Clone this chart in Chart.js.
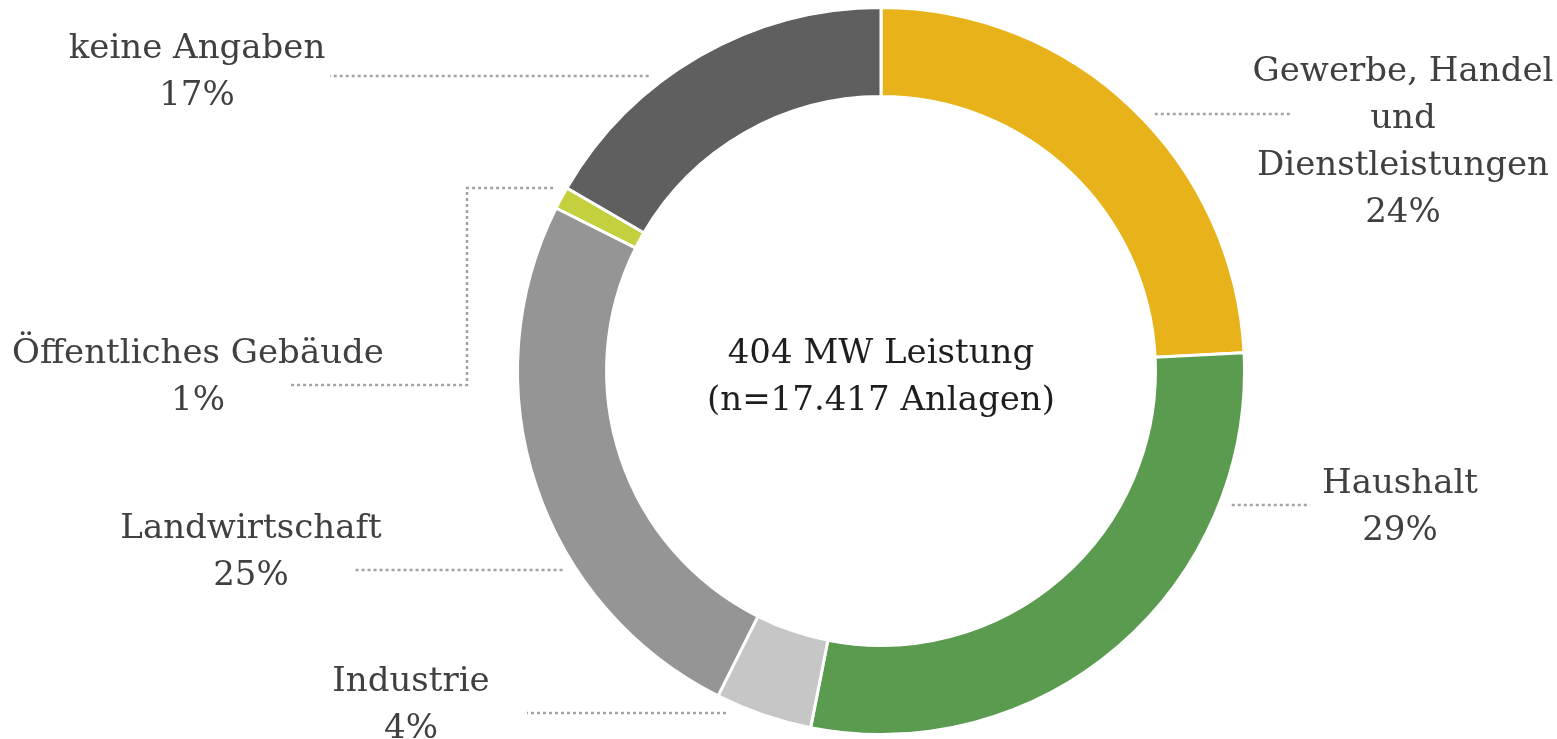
<!DOCTYPE html>
<html lang="de">
<head>
<meta charset="utf-8">
<title>Leistung nach Sektor</title>
<script src="https://cdn.jsdelivr.net/npm/chart.js@4"></script>
<style>
  html, body { margin: 0; padding: 0; background: #fff; }
  #wrap { width: 1557px; height: 739px; }
</style>
</head>
<body>
<div id="wrap"><canvas id="grafik" width="1557" height="739"></canvas></div>
<script>
// Daten
const sektoren = ["Gewerbe, Handel und Dienstleistungen", "Haushalt", "Industrie", "Landwirtschaft", "Öffentliches Gebäude", "keine Angaben"];
const anteile = [24.2, 28.9, 4.3, 25.0, 1.0, 16.6];
const farben = ["#E8B31A", "#5A9B50", "#C6C6C6", "#959595", "#C5D03F", "#5F5F5F"];
const mitteText = ["404 MW Leistung", "(n=17.417 Anlagen)"];

// Beschriftungen: Textzeilen, Textmitte, Führungslinie (y, Ende am Text, optionaler Knick)
const beschriftung = [
  { zeilen: ["Gewerbe, Handel", "und", "Dienstleistungen"], x: 1403, y: 72, linieY: 114, linieEnde: 1290 },
  { zeilen: ["Haushalt"], x: 1400, y: 484, linieY: 505, linieEnde: 1310 },
  { zeilen: ["Industrie"], x: 411, y: 682, linieY: 713, linieEnde: 527 },
  { zeilen: ["Landwirtschaft"], x: 251, y: 529, linieY: 570, linieEnde: 355 },
  { zeilen: ["Öffentliches Gebäude"], x: 198, y: 354, linieY: 188, knickX: 467, knickY: 385, linieEnde: 290 },
  { zeilen: ["keine Angaben"], x: 197, y: 49, linieY: 76, linieEnde: 330 }
];

const SCHRIFT = '34px "DejaVu Serif"';
const ZEILE = 47;

const labelPlugin = {
  id: "labels",
  afterDraw(chart) {
    const ctx = chart.ctx;
    const meta = chart.getDatasetMeta(0);
    const summe = anteile.reduce((t, v) => t + v, 0);
    const arc0 = meta.data[0];
    const cx = arc0.x, cy = arc0.y, r = arc0.outerRadius + 12;

    ctx.save();
    // Führungslinien
    ctx.strokeStyle = "#A3A3A3";
    ctx.lineWidth = 2.5;
    ctx.setLineDash([3, 3]);
    beschriftung.forEach(b => {
      const links = b.x < cx;
      const dy = b.linieY - cy;
      const dx = Math.sqrt(Math.max(r * r - dy * dy, 0));
      const startX = links ? cx - dx : cx + dx;
      ctx.beginPath();
      ctx.moveTo(startX, b.linieY);
      if (b.knickX !== undefined) {
        ctx.lineTo(b.knickX, b.linieY);
        ctx.lineTo(b.knickX, b.knickY);
        ctx.lineTo(b.linieEnde, b.knickY);
      } else {
        ctx.lineTo(b.linieEnde, b.linieY);
      }
      ctx.stroke();
    });
    ctx.setLineDash([]);

    // Texte
    ctx.font = SCHRIFT;
    ctx.textAlign = "center";
    ctx.textBaseline = "middle";
    ctx.fillStyle = "#404040";
    beschriftung.forEach((b, i) => {
      const zeilen = b.zeilen.concat([Math.round(anteile[i] / summe * 100) + "%"]);
      zeilen.forEach((z, k) => ctx.fillText(z, b.x, b.y + k * ZEILE));
    });

    ctx.fillStyle = "#1E1E1E";
    mitteText.forEach((z, k) => ctx.fillText(z, cx, cy - 17 + k * ZEILE));
    ctx.restore();
  }
};

new Chart(document.getElementById("grafik"), {
  type: "doughnut",
  data: {
    labels: sektoren,
    datasets: [{
      data: anteile,
      backgroundColor: farben,
      borderColor: "#FFFFFF",
      borderWidth: 3
    }]
  },
  options: {
    responsive: false,
    animation: false,
    cutout: "75.5%",
    layout: { padding: { left: 300, right: 95, top: 6, bottom: 3 } },
    plugins: {
      legend: { display: false },
      tooltip: { enabled: false }
    }
  },
  plugins: [labelPlugin]
});
</script>
</body>
</html>
